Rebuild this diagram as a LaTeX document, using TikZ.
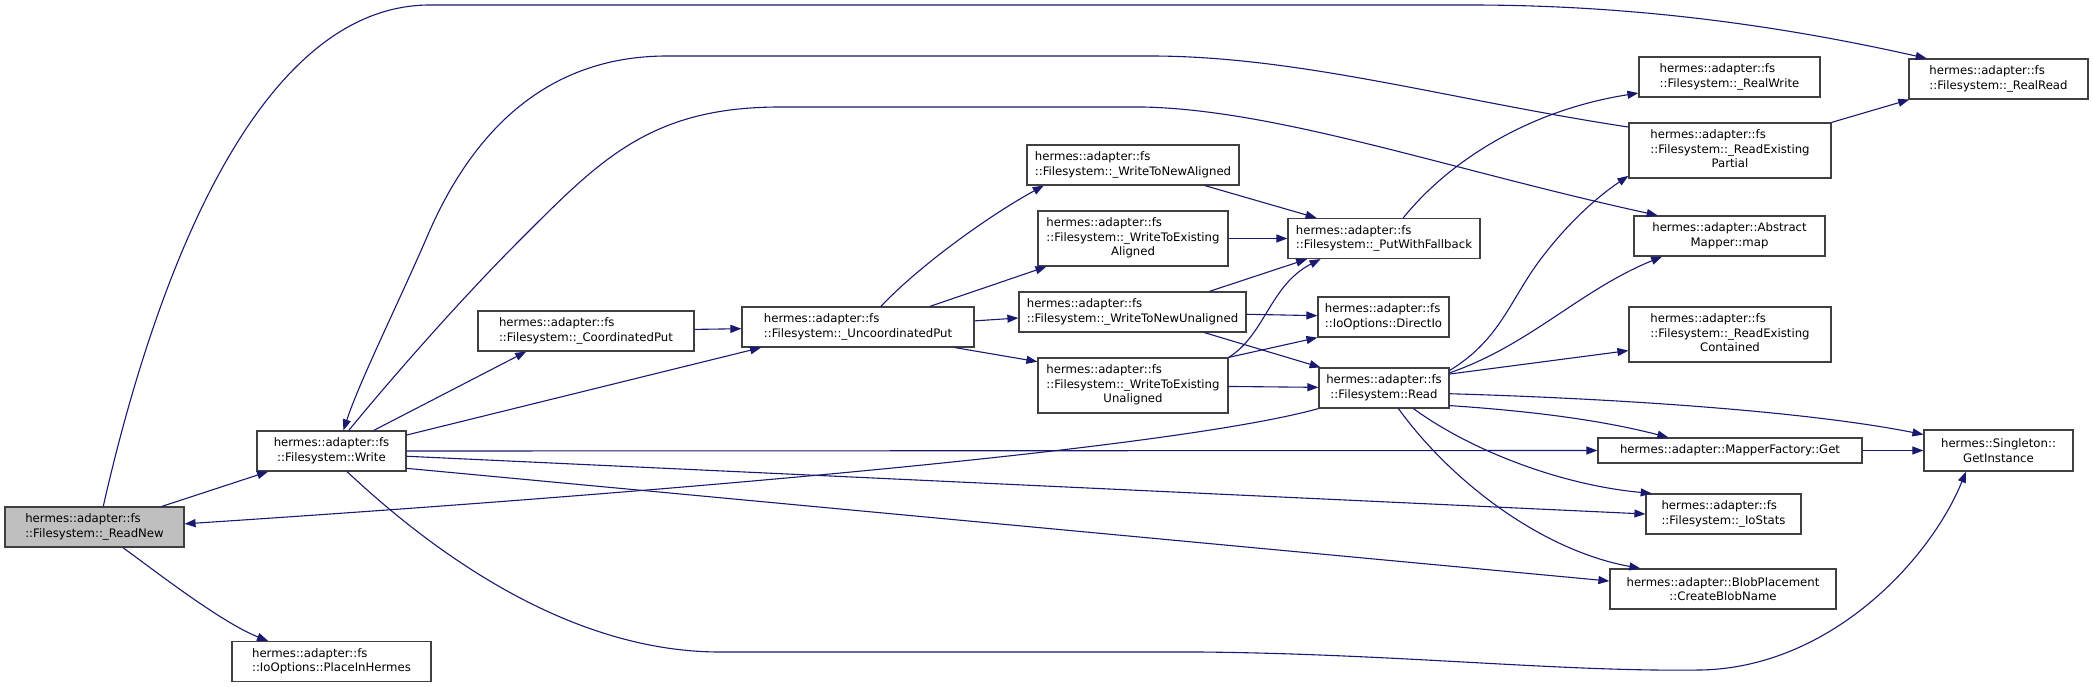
\documentclass[tikz,border=0pt]{standalone}
\usepackage{fontspec}
\setmainfont{DejaVu Sans}
\usetikzlibrary{arrows.meta}

\definecolor{edgeblue}{HTML}{191970}
\definecolor{boxline}{HTML}{404040}
\definecolor{focusfill}{HTML}{BFBFBF}

% two left lines, last line centred
\newcommand{\tricell}[3]{\begin{tabular}{@{}l@{}}#1\\#2\\\multicolumn{1}{@{}c@{}}{#3}\end{tabular}}

\tikzset{
    fn/.style={draw=boxline, fill=white, line width=1.2pt, inner sep=0pt,
        font=\fontsize{11.7}{14.5}\selectfont},
    focus/.style={fn, fill=focusfill},
    call/.style={draw=edgeblue, line width=1.1pt, -{Triangle[length=11pt,width=8pt]}}
}

\begin{document}
\begin{tikzpicture}[x=1pt, y=-1pt]

\useasboundingbox (0,0) rectangle (2093,687);

% Functions
\node[focus, minimum width=179pt, minimum height=40pt, align=left] (readnew) at (94.5,527) {hermes::adapter::fs\\::Filesystem::\_ReadNew};
\node[fn, minimum width=199pt, minimum height=40pt, align=left] (placein) at (331.5,661.5) {hermes::adapter::fs\\::IoOptions::PlaceInHermes};
\node[fn, minimum width=149pt, minimum height=40pt, align=center] (write) at (331.5,451) {hermes::adapter::fs\\::Filesystem::Write};
\node[fn, minimum width=216pt, minimum height=40pt, align=left] (coordput) at (586,331) {hermes::adapter::fs\\::Filesystem::\_CoordinatedPut};
\node[fn, minimum width=232pt, minimum height=40pt, align=left] (uncoordput) at (858,327) {hermes::adapter::fs\\::Filesystem::\_UncoordinatedPut};

\node[fn, minimum width=212pt, minimum height=40pt, align=left] (wtna) at (1133,165) {hermes::adapter::fs\\::Filesystem::\_WriteToNewAligned};
\node[fn, minimum width=190pt, minimum height=55pt] (wtea) at (1133,238.5) {\tricell{hermes::adapter::fs}{::Filesystem::\_WriteToExisting}{Aligned}};
\node[fn, minimum width=227pt, minimum height=40pt, align=left] (wtnu) at (1132.5,312) {hermes::adapter::fs\\::Filesystem::\_WriteToNewUnaligned};
\node[fn, minimum width=190pt, minimum height=55pt] (wteu) at (1133,385.5) {\tricell{hermes::adapter::fs}{::Filesystem::\_WriteToExisting}{Unaligned}};

\node[fn, minimum width=192pt, minimum height=40pt, align=left] (putfb) at (1384,238.5) {hermes::adapter::fs\\::Filesystem::\_PutWithFallback};
\node[fn, minimum width=131pt, minimum height=40pt, align=left] (directio) at (1383.5,317) {hermes::adapter::fs\\::IoOptions::DirectIo};
\node[fn, minimum width=130pt, minimum height=40pt, align=center] (read) at (1384,388) {hermes::adapter::fs\\::Filesystem::Read};

\node[fn, minimum width=181pt, minimum height=40pt, align=left] (realwrite) at (1729.5,77) {hermes::adapter::fs\\::Filesystem::\_RealWrite};
\node[fn, minimum width=202pt, minimum height=55pt] (rdpartial) at (1730,150.5) {\tricell{hermes::adapter::fs}{::Filesystem::\_ReadExisting}{Partial}};
\node[fn, minimum width=191pt, minimum height=40pt, align=center] (map) at (1729.5,236) {hermes::adapter::Abstract\\Mapper::map};
\node[fn, minimum width=202pt, minimum height=55pt] (rdcontained) at (1730,334.5) {\tricell{hermes::adapter::fs}{::Filesystem::\_ReadExisting}{Contained}};
\node[fn, minimum width=264pt, minimum height=25pt] (mfget) at (1730,450.5) {hermes::adapter::MapperFactory::Get};
\node[fn, minimum width=155pt, minimum height=40pt, align=left] (iostats) at (1723.5,514) {hermes::adapter::fs\\::Filesystem::\_IoStats};
\node[fn, minimum width=226pt, minimum height=40pt, align=center] (blobname) at (1723,589) {hermes::adapter::BlobPlacement\\::CreateBlobName};

\node[fn, minimum width=179pt, minimum height=40pt, align=left] (realread) at (1998.5,79) {hermes::adapter::fs\\::Filesystem::\_RealRead};
\node[fn, minimum width=149pt, minimum height=41pt, align=center] (getinst) at (1998.5,450.5) {hermes::Singleton::\\GetInstance};

% Calls from _ReadNew
\draw[call] (readnew.17.5) -- (write.198.6);
\draw[call] (readnew.324) .. controls (150,567) and (220,622) .. (placein.162.4);
\draw[call] (readnew.67) .. controls (150,300) and (250,5) .. (430,5) -- (1470,5) .. controls (1650,5) and (1800,30) .. (realread.164.8);

% Calls from Write
\draw[call] (write.26.3) -- (coordput.199.7);
\draw[call] (write.12.9) -- (uncoordput.192.1);
\draw[call] (write.50.5) .. controls (390,380) and (460,300) .. (520,240) .. controls (600,160) and (650,107) .. (780,107) -- (1143,107) .. controls (1280,110) and (1450,170) .. (map.164.4);
\draw[call] (write.east) -- (mfget.west);
\draw[call] (write.356.9) -- (iostats.west);
\draw[call] (write.347.9) -- (blobname.176);
\draw[call] (write.307.8) .. controls (420,540) and (560,652) .. (720,652) -- (1200,652) .. controls (1400,654) and (1560,672) .. (1700,670) .. controls (1830,668) and (1930,560) .. (getinst.213.1);

% Put path
\draw[call] (coordput) -- (uncoordput);
\draw[call] (uncoordput.42.3) .. controls (920,265) and (990,215) .. (wtna.193.5);
\draw[call] (uncoordput.16.2) -- (wtea.198.3);
\draw[call] (uncoordput.3.45) -- (wtnu.183.5);
\draw[call] (uncoordput.348.9) -- (wteu.166.7);

\draw[call] (wtna.344.1) -- (putfb.163.5);
\draw[call] (wtea) -- (putfb);
\draw[call] (wtnu.15.8) -- (putfb.195.9);
\draw[call] (wtnu) -- (directio);
\draw[call] (wtnu.344.2) -- (read.162.6);
\draw[call] (wteu.north east) .. controls (1265,335) and (1270,285) .. (putfb.198.3);
\draw[call] (wteu.north east) -- (directio.south west);
\draw[call] (wteu) -- (read);

\draw[call] (putfb.47.3) .. controls (1450,160) and (1530,110) .. (realwrite.190.6);

% Calls from Read
\draw[call] (read.south west) .. controls (1180,447) and (700,490) .. (readnew.2.6);
\draw[call] (read.15.5) .. controls (1500,340) and (1510,300) .. (1540,260) .. controls (1570,220) and (1600,195) .. (rdpartial.194.7);
\draw[call] (read.13.8) .. controls (1530,345) and (1580,290) .. (map.197.2);
\draw[call] (read.12.2) -- (rdcontained.189.8);
\draw[call] (read.355.6) .. controls (1600,398) and (1800,410) .. (getinst.168.2);
\draw[call] (read.345.3) .. controls (1560,413) and (1620,425) .. (mfget.168.2);
\draw[call] (read.325.4) .. controls (1470,450) and (1560,485) .. (iostats.164.8);
\draw[call] (read.305) .. controls (1450,480) and (1540,550) .. (blobname.166.5);

\draw[call] (mfget) -- (getinst);

% Calls from _ReadExistingPartial
\draw[call] (rdpartial.north east) -- (realread.193.5);
\draw[call] (rdpartial.167.4) .. controls (1450,100) and (1300,56) .. (1150,56) -- (667,56) .. controls (540,56) and (470,140) .. (430,230) .. controls (400,300) and (360,380) .. (write.60.1);

\end{tikzpicture}
\end{document}
